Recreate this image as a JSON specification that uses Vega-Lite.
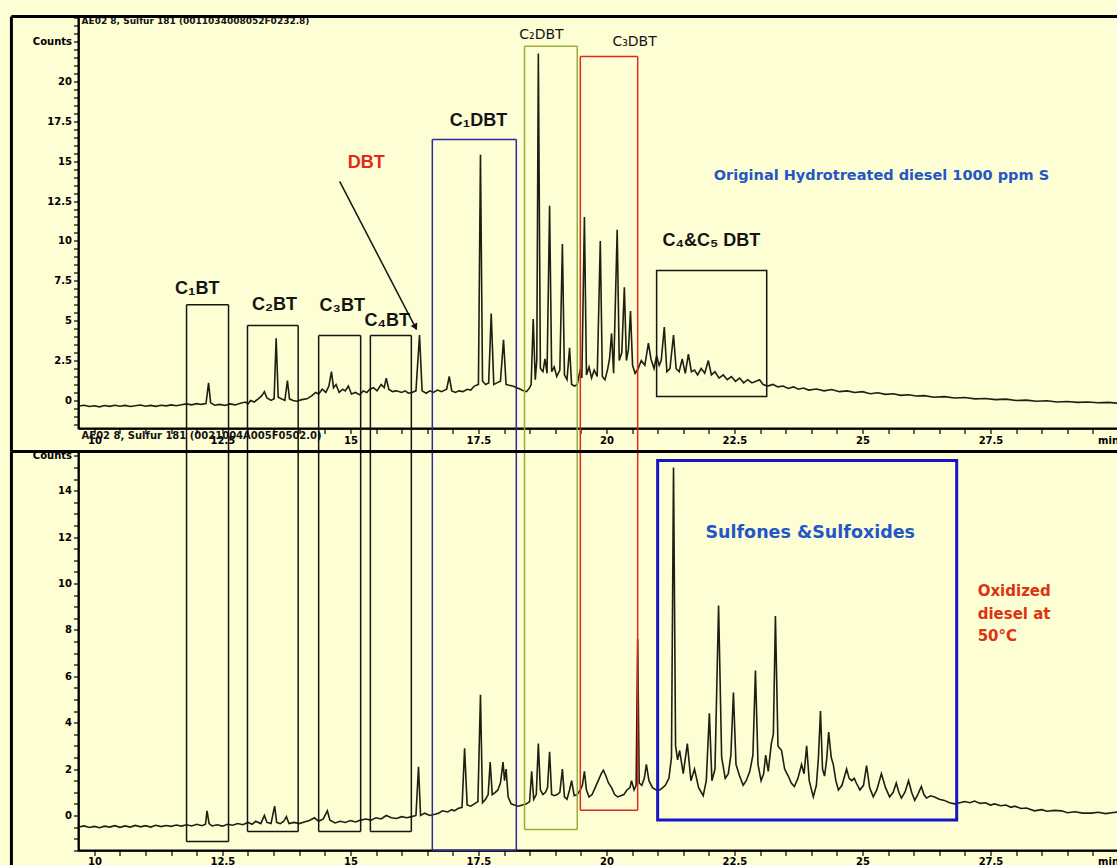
{
  "$schema": "https://vega.github.io/schema/vega-lite/v6.json",
  "background": "#fefed4",
  "padding": {"left": 8.5, "top": 11.5, "right": 0, "bottom": 0},
  "autosize": {"type": "pad"},
  "config": {
    "view": {"fill": "#fefed4", "stroke": "black", "strokeWidth": 2},
    "axis": {
      "grid": false, "title": null, "domainColor": "black", "domainWidth": 1.5,
      "tickColor": "black", "tickSize": 5, "tickWidth": 1.2, "tickCount": 500,
      "labelColor": "black", "labelFont": "DejaVu Sans", "labelFontWeight": "bold",
      "labelFontSize": 10, "labelOverlap": false, "labelPadding": 2
    }
  },
  "datasets": {
    "top": [
      {"t":9.70,"v":-0.35},{"t":9.80,"v":-0.30},{"t":9.90,"v":-0.38},{"t":10.00,"v":-0.33},{"t":10.10,"v":-0.40},{"t":10.20,"v":-0.32},{"t":10.30,"v":-0.37},{"t":10.40,"v":-0.30},{"t":10.50,"v":-0.36},{"t":10.60,"v":-0.31},{"t":10.70,"v":-0.38},{"t":10.80,"v":-0.33},{"t":10.90,"v":-0.29},{"t":11.00,"v":-0.36},{"t":11.10,"v":-0.31},{"t":11.20,"v":-0.37},{"t":11.30,"v":-0.30},{"t":11.40,"v":-0.34},{"t":11.50,"v":-0.28},{"t":11.60,"v":-0.33},{"t":11.70,"v":-0.27},{"t":11.80,"v":-0.22},{"t":11.90,"v":-0.28},{"t":12.00,"v":-0.20},{"t":12.08,"v":-0.25},{"t":12.18,"v":-0.20},{"t":12.23,"v":1.10},{"t":12.27,"v":-0.15},{"t":12.35,"v":-0.30},{"t":12.45,"v":-0.25},{"t":12.55,"v":-0.32},{"t":12.65,"v":-0.22},{"t":12.75,"v":-0.28},{"t":12.85,"v":-0.18},{"t":12.95,"v":-0.10},{"t":13.00,"v":-0.22},{"t":13.05,"v":0.00},{"t":13.12,"v":-0.10},{"t":13.20,"v":0.10},{"t":13.27,"v":0.30},{"t":13.32,"v":0.55},{"t":13.37,"v":0.15},{"t":13.45,"v":0.00},{"t":13.51,"v":0.10},{"t":13.55,"v":3.90},{"t":13.59,"v":0.20},{"t":13.65,"v":0.10},{"t":13.72,"v":0.00},{"t":13.77,"v":1.25},{"t":13.81,"v":0.10},{"t":13.88,"v":0.00},{"t":13.95,"v":-0.05},{"t":14.05,"v":0.05},{"t":14.15,"v":0.10},{"t":14.25,"v":0.30},{"t":14.32,"v":0.50},{"t":14.38,"v":0.40},{"t":14.45,"v":0.70},{"t":14.52,"v":0.50},{"t":14.58,"v":0.90},{"t":14.63,"v":1.80},{"t":14.67,"v":0.80},{"t":14.72,"v":1.00},{"t":14.78,"v":0.50},{"t":14.85,"v":0.70},{"t":14.90,"v":0.60},{"t":14.96,"v":0.90},{"t":15.02,"v":0.40},{"t":15.10,"v":0.50},{"t":15.18,"v":0.35},{"t":15.25,"v":0.60},{"t":15.32,"v":0.50},{"t":15.38,"v":0.70},{"t":15.45,"v":0.80},{"t":15.52,"v":0.60},{"t":15.60,"v":1.00},{"t":15.66,"v":0.80},{"t":15.70,"v":1.40},{"t":15.75,"v":0.70},{"t":15.82,"v":0.55},{"t":15.90,"v":0.60},{"t":16.00,"v":0.50},{"t":16.07,"v":0.60},{"t":16.13,"v":0.45},{"t":16.20,"v":0.50},{"t":16.28,"v":0.60},{"t":16.35,"v":4.10},{"t":16.40,"v":0.60},{"t":16.48,"v":0.45},{"t":16.55,"v":0.60},{"t":16.62,"v":0.50},{"t":16.70,"v":0.65},{"t":16.78,"v":0.55},{"t":16.88,"v":0.70},{"t":16.93,"v":1.50},{"t":16.98,"v":0.60},{"t":17.05,"v":0.50},{"t":17.12,"v":0.60},{"t":17.20,"v":0.55},{"t":17.28,"v":0.70},{"t":17.35,"v":0.65},{"t":17.42,"v":0.90},{"t":17.50,"v":1.00},{"t":17.54,"v":15.40},{"t":17.58,"v":1.20},{"t":17.64,"v":1.00},{"t":17.70,"v":1.10},{"t":17.75,"v":5.45},{"t":17.80,"v":1.00},{"t":17.86,"v":1.10},{"t":17.93,"v":1.20},{"t":17.99,"v":3.80},{"t":18.04,"v":1.00},{"t":18.10,"v":0.95},{"t":18.17,"v":0.90},{"t":18.25,"v":0.80},{"t":18.32,"v":0.70},{"t":18.38,"v":0.60},{"t":18.44,"v":0.55},{"t":18.50,"v":0.80},{"t":18.53,"v":1.00},{"t":18.57,"v":5.10},{"t":18.61,"v":1.30},{"t":18.64,"v":2.50},{"t":18.67,"v":21.75},{"t":18.71,"v":2.00},{"t":18.76,"v":1.80},{"t":18.80,"v":2.60},{"t":18.84,"v":1.70},{"t":18.89,"v":12.20},{"t":18.93,"v":1.80},{"t":18.98,"v":2.10},{"t":19.03,"v":1.50},{"t":19.09,"v":1.90},{"t":19.14,"v":9.80},{"t":19.18,"v":1.60},{"t":19.23,"v":1.30},{"t":19.28,"v":3.30},{"t":19.32,"v":1.00},{"t":19.38,"v":0.90},{"t":19.43,"v":1.00},{"t":19.48,"v":1.80},{"t":19.52,"v":1.40},{"t":19.57,"v":11.50},{"t":19.61,"v":1.60},{"t":19.66,"v":2.10},{"t":19.71,"v":1.40},{"t":19.76,"v":1.90},{"t":19.82,"v":1.50},{"t":19.88,"v":10.00},{"t":19.92,"v":1.50},{"t":19.97,"v":1.30},{"t":20.02,"v":1.90},{"t":20.06,"v":2.60},{"t":20.10,"v":4.20},{"t":20.14,"v":1.70},{"t":20.21,"v":10.70},{"t":20.25,"v":2.50},{"t":20.30,"v":3.00},{"t":20.35,"v":7.10},{"t":20.39,"v":2.50},{"t":20.43,"v":3.20},{"t":20.47,"v":5.60},{"t":20.51,"v":2.20},{"t":20.56,"v":1.70},{"t":20.62,"v":2.00},{"t":20.68,"v":2.50},{"t":20.75,"v":2.20},{"t":20.82,"v":3.60},{"t":20.87,"v":2.60},{"t":20.93,"v":2.00},{"t":20.98,"v":2.80},{"t":21.03,"v":2.20},{"t":21.07,"v":2.50},{"t":21.13,"v":4.60},{"t":21.18,"v":1.80},{"t":21.24,"v":2.00},{"t":21.31,"v":4.10},{"t":21.36,"v":2.00},{"t":21.42,"v":1.80},{"t":21.48,"v":2.60},{"t":21.54,"v":1.70},{"t":21.60,"v":2.90},{"t":21.66,"v":1.80},{"t":21.72,"v":1.90},{"t":21.78,"v":1.60},{"t":21.85,"v":2.00},{"t":21.92,"v":1.70},{"t":21.99,"v":2.50},{"t":22.05,"v":1.60},{"t":22.12,"v":1.80},{"t":22.20,"v":1.40},{"t":22.28,"v":1.60},{"t":22.36,"v":1.30},{"t":22.44,"v":1.50},{"t":22.52,"v":1.20},{"t":22.60,"v":1.40},{"t":22.68,"v":1.10},{"t":22.76,"v":1.30},{"t":22.84,"v":1.10},{"t":22.92,"v":1.20},{"t":22.99,"v":1.30},{"t":23.06,"v":1.00},{"t":23.15,"v":0.90},{"t":23.25,"v":1.00},{"t":23.35,"v":0.85},{"t":23.45,"v":0.90},{"t":23.55,"v":0.75},{"t":23.65,"v":0.85},{"t":23.75,"v":0.70},{"t":23.85,"v":0.78},{"t":23.95,"v":0.65},{"t":24.10,"v":0.72},{"t":24.25,"v":0.60},{"t":24.40,"v":0.68},{"t":24.55,"v":0.55},{"t":24.70,"v":0.60},{"t":24.85,"v":0.50},{"t":25.00,"v":0.55},{"t":25.15,"v":0.42},{"t":25.30,"v":0.48},{"t":25.45,"v":0.38},{"t":25.60,"v":0.42},{"t":25.75,"v":0.32},{"t":25.90,"v":0.36},{"t":26.05,"v":0.28},{"t":26.20,"v":0.30},{"t":26.40,"v":0.20},{"t":26.60,"v":0.24},{"t":26.80,"v":0.15},{"t":27.00,"v":0.18},{"t":27.20,"v":0.10},{"t":27.40,"v":0.12},{"t":27.60,"v":0.05},{"t":27.80,"v":0.08},{"t":28.00,"v":0.00},{"t":28.20,"v":0.02},{"t":28.40,"v":-0.05},{"t":28.60,"v":-0.02},{"t":28.80,"v":-0.10},{"t":29.00,"v":-0.07},{"t":29.20,"v":-0.12},{"t":29.40,"v":-0.10},{"t":29.60,"v":-0.15},{"t":29.80,"v":-0.12},{"t":30.00,"v":-0.18}
    ],
    "bottom": [
      {"t":9.70,"v":-0.50},{"t":9.80,"v":-0.45},{"t":9.90,"v":-0.52},{"t":10.00,"v":-0.47},{"t":10.10,"v":-0.53},{"t":10.20,"v":-0.46},{"t":10.30,"v":-0.50},{"t":10.40,"v":-0.44},{"t":10.50,"v":-0.51},{"t":10.60,"v":-0.45},{"t":10.70,"v":-0.50},{"t":10.80,"v":-0.43},{"t":10.90,"v":-0.49},{"t":11.00,"v":-0.44},{"t":11.10,"v":-0.50},{"t":11.20,"v":-0.42},{"t":11.30,"v":-0.48},{"t":11.40,"v":-0.43},{"t":11.50,"v":-0.47},{"t":11.60,"v":-0.41},{"t":11.70,"v":-0.46},{"t":11.80,"v":-0.40},{"t":11.90,"v":-0.45},{"t":12.00,"v":-0.38},{"t":12.10,"v":-0.44},{"t":12.17,"v":-0.38},{"t":12.20,"v":0.20},{"t":12.24,"v":-0.35},{"t":12.30,"v":-0.45},{"t":12.40,"v":-0.40},{"t":12.50,"v":-0.46},{"t":12.60,"v":-0.38},{"t":12.70,"v":-0.42},{"t":12.80,"v":-0.35},{"t":12.90,"v":-0.40},{"t":13.00,"v":-0.30},{"t":13.08,"v":-0.38},{"t":13.15,"v":-0.25},{"t":13.25,"v":-0.35},{"t":13.32,"v":0.00},{"t":13.37,"v":-0.30},{"t":13.45,"v":-0.35},{"t":13.52,"v":0.40},{"t":13.56,"v":-0.30},{"t":13.63,"v":-0.35},{"t":13.70,"v":-0.25},{"t":13.75,"v":-0.05},{"t":13.80,"v":-0.35},{"t":13.90,"v":-0.30},{"t":14.00,"v":-0.35},{"t":14.10,"v":-0.28},{"t":14.20,"v":-0.22},{"t":14.30,"v":-0.10},{"t":14.38,"v":-0.25},{"t":14.47,"v":-0.15},{"t":14.55,"v":0.20},{"t":14.60,"v":-0.20},{"t":14.70,"v":-0.32},{"t":14.80,"v":-0.25},{"t":14.90,"v":-0.30},{"t":15.00,"v":-0.22},{"t":15.10,"v":-0.28},{"t":15.20,"v":-0.20},{"t":15.30,"v":-0.15},{"t":15.40,"v":-0.20},{"t":15.50,"v":-0.10},{"t":15.60,"v":-0.15},{"t":15.70,"v":0.00},{"t":15.80,"v":-0.10},{"t":15.90,"v":-0.13},{"t":16.00,"v":-0.05},{"t":16.10,"v":-0.10},{"t":16.20,"v":-0.05},{"t":16.28,"v":0.00},{"t":16.33,"v":2.10},{"t":16.37,"v":0.00},{"t":16.45,"v":0.10},{"t":16.55,"v":0.00},{"t":16.65,"v":0.05},{"t":16.72,"v":0.10},{"t":16.80,"v":0.20},{"t":16.90,"v":0.15},{"t":16.98,"v":0.25},{"t":17.03,"v":0.20},{"t":17.10,"v":0.30},{"t":17.18,"v":0.35},{"t":17.23,"v":2.90},{"t":17.28,"v":0.45},{"t":17.35,"v":0.40},{"t":17.42,"v":0.50},{"t":17.49,"v":0.60},{"t":17.54,"v":5.20},{"t":17.58,"v":0.55},{"t":17.64,"v":0.70},{"t":17.69,"v":0.90},{"t":17.73,"v":2.30},{"t":17.77,"v":0.90},{"t":17.83,"v":1.00},{"t":17.88,"v":1.10},{"t":17.93,"v":1.40},{"t":17.98,"v":2.30},{"t":18.01,"v":1.50},{"t":18.04,"v":2.00},{"t":18.08,"v":0.80},{"t":18.14,"v":0.50},{"t":18.20,"v":0.45},{"t":18.28,"v":0.40},{"t":18.36,"v":0.45},{"t":18.44,"v":0.50},{"t":18.50,"v":0.60},{"t":18.54,"v":1.90},{"t":18.58,"v":0.70},{"t":18.63,"v":0.90},{"t":18.67,"v":3.10},{"t":18.71,"v":1.10},{"t":18.76,"v":0.90},{"t":18.81,"v":1.00},{"t":18.85,"v":1.20},{"t":18.89,"v":2.75},{"t":18.93,"v":0.90},{"t":18.98,"v":0.85},{"t":19.04,"v":0.90},{"t":19.09,"v":1.00},{"t":19.14,"v":2.00},{"t":19.18,"v":0.80},{"t":19.23,"v":0.70},{"t":19.28,"v":1.10},{"t":19.32,"v":1.50},{"t":19.37,"v":0.85},{"t":19.43,"v":0.90},{"t":19.49,"v":1.10},{"t":19.53,"v":1.30},{"t":19.57,"v":1.90},{"t":19.61,"v":1.10},{"t":19.66,"v":0.80},{"t":19.72,"v":0.90},{"t":19.78,"v":1.20},{"t":19.84,"v":1.50},{"t":19.90,"v":1.80},{"t":19.94,"v":1.95},{"t":19.99,"v":1.70},{"t":20.04,"v":1.40},{"t":20.10,"v":1.20},{"t":20.16,"v":0.90},{"t":20.22,"v":0.80},{"t":20.28,"v":0.85},{"t":20.34,"v":0.90},{"t":20.40,"v":1.10},{"t":20.46,"v":1.20},{"t":20.49,"v":1.50},{"t":20.54,"v":1.10},{"t":20.58,"v":1.30},{"t":20.61,"v":7.60},{"t":20.64,"v":1.40},{"t":20.69,"v":1.30},{"t":20.74,"v":1.60},{"t":20.78,"v":2.20},{"t":20.83,"v":1.50},{"t":20.90,"v":1.20},{"t":20.97,"v":1.10},{"t":21.04,"v":1.10},{"t":21.10,"v":1.20},{"t":21.15,"v":1.30},{"t":21.22,"v":1.60},{"t":21.27,"v":2.50},{"t":21.31,"v":15.00},{"t":21.35,"v":3.00},{"t":21.39,"v":2.40},{"t":21.43,"v":2.80},{"t":21.50,"v":1.80},{"t":21.58,"v":3.10},{"t":21.65,"v":1.50},{"t":21.72,"v":2.00},{"t":21.80,"v":1.20},{"t":21.89,"v":0.85},{"t":21.95,"v":1.50},{"t":22.01,"v":4.40},{"t":22.06,"v":1.50},{"t":22.12,"v":2.00},{"t":22.19,"v":9.05},{"t":22.25,"v":2.50},{"t":22.32,"v":1.60},{"t":22.38,"v":1.80},{"t":22.43,"v":2.60},{"t":22.48,"v":5.30},{"t":22.53,"v":2.20},{"t":22.60,"v":1.70},{"t":22.67,"v":1.30},{"t":22.73,"v":1.50},{"t":22.80,"v":1.90},{"t":22.86,"v":2.60},{"t":22.91,"v":6.25},{"t":22.96,"v":2.20},{"t":23.02,"v":1.50},{"t":23.07,"v":1.80},{"t":23.11,"v":2.60},{"t":23.16,"v":1.90},{"t":23.22,"v":3.10},{"t":23.26,"v":3.50},{"t":23.30,"v":8.60},{"t":23.35,"v":3.00},{"t":23.42,"v":2.80},{"t":23.48,"v":2.00},{"t":23.55,"v":1.70},{"t":23.61,"v":1.40},{"t":23.67,"v":1.25},{"t":23.74,"v":1.60},{"t":23.81,"v":2.20},{"t":23.86,"v":1.80},{"t":23.91,"v":3.00},{"t":23.96,"v":1.50},{"t":24.04,"v":0.80},{"t":24.10,"v":1.30},{"t":24.14,"v":2.50},{"t":24.18,"v":4.50},{"t":24.22,"v":2.00},{"t":24.26,"v":1.70},{"t":24.30,"v":2.40},{"t":24.34,"v":3.60},{"t":24.39,"v":2.50},{"t":24.43,"v":2.20},{"t":24.48,"v":1.50},{"t":24.53,"v":1.10},{"t":24.60,"v":1.30},{"t":24.69,"v":2.00},{"t":24.74,"v":1.60},{"t":24.79,"v":1.50},{"t":24.84,"v":1.60},{"t":24.88,"v":1.40},{"t":24.95,"v":1.10},{"t":25.02,"v":1.30},{"t":25.08,"v":2.15},{"t":25.14,"v":1.20},{"t":25.21,"v":0.80},{"t":25.28,"v":1.10},{"t":25.37,"v":1.80},{"t":25.45,"v":1.20},{"t":25.53,"v":0.80},{"t":25.60,"v":1.00},{"t":25.66,"v":1.40},{"t":25.71,"v":1.00},{"t":25.76,"v":0.75},{"t":25.83,"v":1.00},{"t":25.90,"v":1.50},{"t":25.96,"v":1.00},{"t":26.02,"v":0.65},{"t":26.08,"v":0.90},{"t":26.15,"v":1.25},{"t":26.20,"v":0.90},{"t":26.25,"v":0.75},{"t":26.33,"v":0.85},{"t":26.41,"v":0.80},{"t":26.50,"v":0.70},{"t":26.60,"v":0.65},{"t":26.70,"v":0.55},{"t":26.80,"v":0.50},{"t":26.90,"v":0.55},{"t":27.00,"v":0.60},{"t":27.10,"v":0.55},{"t":27.19,"v":0.62},{"t":27.30,"v":0.52},{"t":27.40,"v":0.55},{"t":27.50,"v":0.45},{"t":27.58,"v":0.50},{"t":27.70,"v":0.42},{"t":27.80,"v":0.45},{"t":27.90,"v":0.35},{"t":27.97,"v":0.40},{"t":28.10,"v":0.30},{"t":28.20,"v":0.32},{"t":28.36,"v":0.20},{"t":28.50,"v":0.25},{"t":28.60,"v":0.18},{"t":28.75,"v":0.22},{"t":28.89,"v":0.20},{"t":29.00,"v":0.12},{"t":29.15,"v":0.16},{"t":29.30,"v":0.10},{"t":29.47,"v":0.10},{"t":29.60,"v":0.14},{"t":29.75,"v":0.08},{"t":29.90,"v":0.13},{"t":30.00,"v":0.15}
    ],
    "boxes": [
      {"name":"C1BT","x1":11.80,"x2":12.62,"top":6.0,"bot":-1.12},
      {"name":"C2BT","x1":12.99,"x2":13.98,"top":4.7,"bot":-0.69},
      {"name":"C3BT","x1":14.38,"x2":15.20,"top":4.07,"bot":-0.69},
      {"name":"C4BT","x1":15.39,"x2":16.19,"top":4.07,"bot":-0.69},
      {"name":"C1DBT","x1":16.60,"x2":18.24,"top":16.36,"bot":-1.5},
      {"name":"C2DBT","x1":18.40,"x2":19.43,"top":22.2,"bot":-0.6},
      {"name":"C3DBT","x1":19.49,"x2":20.61,"top":21.57,"bot":0.22}
    ]
  },
  "bounds": "flush",
  "spacing": 23,
  "vconcat": [
    {
      "width": 1040,
      "height": 412,
      "layer": [
        {
          "data": {"name": "top"},
          "mark": {"type": "line", "color": "#1e1e12", "strokeWidth": 1.6},
          "encoding": {
            "x": {"field": "t", "type": "quantitative", "title": null,
              "scale": {"domain": [9.69, 30], "nice": false, "zero": false},
              "axis": {"values": [10,10.5,11,11.5,12,12.5,13,13.5,14,14.5,15,15.5,16,16.5,17,17.5,18,18.5,19,19.5,20,20.5,21,21.5,22,22.5,23,23.5,24,24.5,25,25.5,26,26.5,27,27.5,28,28.5,29,29.5,30],
                "tickCount": 500,
                "labelExpr": "datum.value % 2.5 == 0 ? (datum.value == 30 ? 'min' : '' + datum.value) : ''", "labelFlush": true, "labelOverlap": false}},
            "y": {"field": "v", "type": "quantitative", "title": null,
              "scale": {"domain": [-1.76, 24.07], "nice": false, "zero": false},
              "axis": {"values": [-1.5,-1,-0.5,0,0.5,1,1.5,2,2.5,3,3.5,4,4.5,5,5.5,6,6.5,7,7.5,8,8.5,9,9.5,10,10.5,11,11.5,12,12.5,13,13.5,14,14.5,15,15.5,16,16.5,17,17.5,18,18.5,19,19.5,20,20.5,21,21.5,22,22.5,23,23.5,24],
                "tickCount": 500,
                "labelExpr": "datum.value == 22.5 ? 'Counts' : (datum.value % 2.5 == 0 ? '' + datum.value : '')",
                "labelOverlap": false, "minExtent": 67, "maxExtent": 67}}
          }
        },
        {
          "data": {"name": "boxes"},
          "mark": {"type": "rule", "strokeWidth": 1.5},
          "encoding": {
            "x": {"field": "x1", "type": "quantitative", "title": null},
            "x2": {"field": "x2"},
            "y": {"field": "top", "type": "quantitative", "title": null},
            "color": {"field": "name", "type": "nominal", "legend": null,
              "scale": {"domain": ["C1BT","C2BT","C3BT","C4BT","C1DBT","C2DBT","C3DBT"], "range": ["#141414","#141414","#141414","#141414","#2a2a9c","#9aab3e","#dd2a1e"]}}
          }
        },
        {
          "data": {"name": "boxes"},
          "mark": {"type": "rule", "strokeWidth": 1.5},
          "encoding": {
            "x": {"field": "x1", "type": "quantitative", "title": null},
            "y": {"field": "top", "type": "quantitative", "title": null},
            "y2": {"datum": -3.2},
            "color": {"field": "name", "type": "nominal", "legend": null}
          }
        },
        {
          "data": {"name": "boxes"},
          "mark": {"type": "rule", "strokeWidth": 1.5},
          "encoding": {
            "x": {"field": "x2", "type": "quantitative", "title": null},
            "y": {"field": "top", "type": "quantitative", "title": null},
            "y2": {"datum": -3.2},
            "color": {"field": "name", "type": "nominal", "legend": null}
          }
        },
        {
          "data": {"values": [{"x1": 20.98, "x2": 23.13, "top": 8.15, "bot": 0.25}]},
          "mark": {"type": "rect", "fillOpacity": 0, "stroke": "#141414", "strokeWidth": 1.5},
          "encoding": {
            "x": {"field": "x1", "type": "quantitative", "title": null},
            "x2": {"field": "x2"},
            "y": {"field": "top", "type": "quantitative", "title": null},
            "y2": {"field": "bot"}
          }
        },
        {
          "data": {"values": [{"t1": 14.79, "v1": 13.73, "t2": 16.29, "v2": 4.45}]},
          "mark": {"type": "rule", "color": "#141414", "strokeWidth": 1.5},
          "encoding": {
            "x": {"field": "t1", "type": "quantitative", "title": null},
            "x2": {"field": "t2"},
            "y": {"field": "v1", "type": "quantitative", "title": null},
            "y2": {"field": "v2"}
          }
        },
        {
          "data": {"values": [{"t": 16.27, "v": 4.6}]},
          "mark": {"type": "point", "shape": "triangle-up", "filled": true, "color": "#141414", "opacity": 1, "size": 55, "angle": 152.5},
          "encoding": {
            "x": {"field": "t", "type": "quantitative", "title": null},
            "y": {"field": "v", "type": "quantitative", "title": null}
          }
        },
        {
          "data": {"values": [
            {"t": 12.01, "v": 6.96, "txt": "C₁BT"},
            {"t": 13.52, "v": 5.96, "txt": "C₂BT"},
            {"t": 14.84, "v": 5.9, "txt": "C₃BT"},
            {"t": 15.72, "v": 4.95, "txt": "C₄BT"},
            {"t": 17.5, "v": 17.5, "txt": "C₁DBT"},
            {"t": 22.05, "v": 9.97, "txt": "C₄&C₅ DBT"}
          ]},
          "mark": {"type": "text", "font": "Liberation Sans", "fontWeight": "bold", "fontSize": 18, "color": "#141414", "baseline": "middle"},
          "encoding": {
            "x": {"field": "t", "type": "quantitative", "title": null},
            "y": {"field": "v", "type": "quantitative", "title": null},
            "text": {"field": "txt"}
          }
        },
        {
          "data": {"values": [
            {"t": 18.73, "v": 22.9, "txt": "C₂DBT"},
            {"t": 20.55, "v": 22.5, "txt": "C₃DBT"}
          ]},
          "mark": {"type": "text", "font": "DejaVu Sans", "fontSize": 14, "color": "#141414", "baseline": "middle"},
          "encoding": {
            "x": {"field": "t", "type": "quantitative", "title": null},
            "y": {"field": "v", "type": "quantitative", "title": null},
            "text": {"field": "txt"}
          }
        },
        {
          "data": {"values": [{"t": 15.31, "v": 14.86, "txt": "DBT"}]},
          "mark": {"type": "text", "font": "Liberation Sans", "fontWeight": "bold", "fontSize": 18, "color": "#e02a1a", "baseline": "middle"},
          "encoding": {
            "x": {"field": "t", "type": "quantitative", "title": null},
            "y": {"field": "v", "type": "quantitative", "title": null},
            "text": {"field": "txt"}
          }
        },
        {
          "data": {"values": [{"t": 25.37, "v": 14.1, "txt": "Original Hydrotreated diesel 1000 ppm S"}]},
          "mark": {"type": "text", "font": "DejaVu Sans", "fontWeight": "bold", "fontSize": 14.5, "color": "#2457c6", "baseline": "middle"},
          "encoding": {
            "x": {"field": "t", "type": "quantitative", "title": null},
            "y": {"field": "v", "type": "quantitative", "title": null},
            "text": {"field": "txt"}
          }
        },
        {
          "data": {"values": [{"t": 9.75, "v": 23.76, "txt": "AE02 8, Sulfur 181 (0011034008052F0232.8)"}]},
          "mark": {"type": "text", "font": "DejaVu Sans", "fontWeight": "bold", "fontSize": 9, "color": "#141414", "align": "left", "baseline": "middle"},
          "encoding": {
            "x": {"field": "t", "type": "quantitative", "title": null},
            "y": {"field": "v", "type": "quantitative", "title": null},
            "text": {"field": "txt"}
          }
        },
        {
          "data": {"values": [{}]},
          "mark": {"type": "rule", "color": "black", "strokeWidth": 3},
          "encoding": {"x": {"datum": 8.38}, "y": {"datum": -3.2}, "y2": {"datum": 24.07}}
        },
        {
          "data": {"values": [{}]},
          "mark": {"type": "rule", "color": "black", "strokeWidth": 3},
          "encoding": {"x": {"datum": 8.38}, "x2": {"datum": 30}, "y": {"datum": 24.07}}
        }
      ]
    },
    {
      "width": 1040,
      "height": 399,
      "layer": [
        {
          "data": {"name": "bottom"},
          "mark": {"type": "line", "color": "#1e1e12", "strokeWidth": 1.6},
          "encoding": {
            "x": {"field": "t", "type": "quantitative", "title": null,
              "scale": {"domain": [9.69, 30], "nice": false, "zero": false},
              "axis": {"values": [10,10.5,11,11.5,12,12.5,13,13.5,14,14.5,15,15.5,16,16.5,17,17.5,18,18.5,19,19.5,20,20.5,21,21.5,22,22.5,23,23.5,24,24.5,25,25.5,26,26.5,27,27.5,28,28.5,29,29.5,30],
                "tickCount": 500,
                "labelExpr": "datum.value % 2.5 == 0 ? (datum.value == 30 ? 'min' : '' + datum.value) : ''", "labelFlush": true, "labelOverlap": false, "labelPadding": 1}},
            "y": {"field": "v", "type": "quantitative", "title": null,
              "scale": {"domain": [-1.51, 15.69], "nice": false, "zero": false},
              "axis": {"values": [-1.5,-1,-0.5,0,0.5,1,1.5,2,2.5,3,3.5,4,4.5,5,5.5,6,6.5,7,7.5,8,8.5,9,9.5,10,10.5,11,11.5,12,12.5,13,13.5,14,14.5,15,15.5],
                "tickCount": 500,
                "labelExpr": "datum.value == 15.5 ? 'Counts' : (datum.value % 2 == 0 ? '' + datum.value : '')",
                "labelOverlap": false, "minExtent": 67, "maxExtent": 67}}
          }
        },
        {
          "data": {"name": "boxes"},
          "mark": {"type": "rule", "strokeWidth": 1.5},
          "encoding": {
            "x": {"field": "x1", "type": "quantitative", "title": null},
            "x2": {"field": "x2"},
            "y": {"field": "bot", "type": "quantitative", "title": null},
            "color": {"field": "name", "type": "nominal", "legend": null,
              "scale": {"domain": ["C1BT","C2BT","C3BT","C4BT","C1DBT","C2DBT","C3DBT"], "range": ["#141414","#141414","#141414","#141414","#2a2a9c","#9aab3e","#dd2a1e"]}}
          }
        },
        {
          "data": {"name": "boxes"},
          "mark": {"type": "rule", "strokeWidth": 1.5},
          "encoding": {
            "x": {"field": "x1", "type": "quantitative", "title": null},
            "y": {"field": "bot", "type": "quantitative", "title": null},
            "y2": {"datum": 15.69},
            "color": {"field": "name", "type": "nominal", "legend": null}
          }
        },
        {
          "data": {"name": "boxes"},
          "mark": {"type": "rule", "strokeWidth": 1.5},
          "encoding": {
            "x": {"field": "x2", "type": "quantitative", "title": null},
            "y": {"field": "bot", "type": "quantitative", "title": null},
            "y2": {"datum": 15.69},
            "color": {"field": "name", "type": "nominal", "legend": null}
          }
        },
        {
          "data": {"values": [{"x1": 21.0, "x2": 26.84, "top": 15.3, "bot": -0.2}]},
          "mark": {"type": "rect", "fillOpacity": 0, "stroke": "#1515c8", "strokeWidth": 3},
          "encoding": {
            "x": {"field": "x1", "type": "quantitative", "title": null},
            "x2": {"field": "x2"},
            "y": {"field": "top", "type": "quantitative", "title": null},
            "y2": {"field": "bot"}
          }
        },
        {
          "data": {"values": [{"t": 23.98, "v": 12.16, "txt": "Sulfones &Sulfoxides"}]},
          "mark": {"type": "text", "font": "DejaVu Sans", "fontWeight": "bold", "fontSize": 17.5, "color": "#2457c6", "baseline": "middle"},
          "encoding": {
            "x": {"field": "t", "type": "quantitative", "title": null},
            "y": {"field": "v", "type": "quantitative", "title": null},
            "text": {"field": "txt"}
          }
        },
        {
          "data": {"values": [
            {"t": 27.25, "v": 9.66, "txt": "Oxidized"},
            {"t": 27.25, "v": 8.68, "txt": "diesel at"},
            {"t": 27.25, "v": 7.72, "txt": "50°C"}
          ]},
          "mark": {"type": "text", "font": "DejaVu Sans", "fontWeight": "bold", "fontSize": 15, "color": "#dd3311", "align": "left", "baseline": "middle"},
          "encoding": {
            "x": {"field": "t", "type": "quantitative", "title": null},
            "y": {"field": "v", "type": "quantitative", "title": null},
            "text": {"field": "txt"}
          }
        },
        {
          "data": {"values": [{"t": 9.75, "v": 16.34, "txt": "AE02 8, Sulfur 181 (0021004A005F0502.0)"}]},
          "mark": {"type": "text", "font": "DejaVu Sans", "fontWeight": "bold", "fontSize": 10, "color": "#141414", "align": "left", "baseline": "middle"},
          "encoding": {
            "x": {"field": "t", "type": "quantitative", "title": null},
            "y": {"field": "v", "type": "quantitative", "title": null},
            "text": {"field": "txt"}
          }
        },
        {
          "data": {"values": [{}]},
          "mark": {"type": "rule", "color": "black", "strokeWidth": 3},
          "encoding": {"x": {"datum": 8.38}, "x2": {"datum": 30}, "y": {"datum": 15.69}}
        },
        {
          "data": {"values": [{}]},
          "mark": {"type": "rule", "color": "black", "strokeWidth": 3},
          "encoding": {"x": {"datum": 8.38}, "y": {"datum": 15.69}, "y2": {"datum": -2.4}}
        }
      ]
    }
  ]
}
